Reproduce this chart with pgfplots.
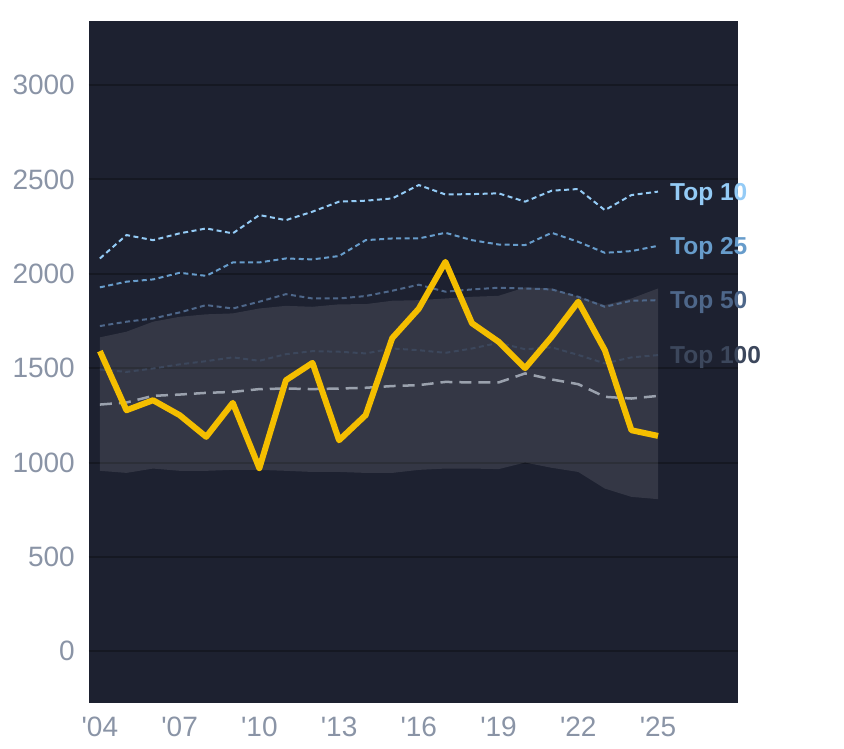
\documentclass[border=0pt]{standalone}
\usepackage{fontspec}
\setmainfont{Liberation Sans}
\usepackage{pgfplots}
\usepackage{pgfplotstable}
\pgfplotsset{compat=1.18}
\usepgfplotslibrary{fillbetween}
\definecolor{bgc}{HTML}{1D2130}
\definecolor{gridc}{HTML}{151822}
\definecolor{tickc}{HTML}{8A94A6}
\definecolor{yel}{HTML}{F4BE00}
\definecolor{tten}{HTML}{94CBF6}
\definecolor{ttf}{HTML}{679CCB}
\definecolor{tfif}{HTML}{4E678A}
\definecolor{thun}{HTML}{3C475C}
\definecolor{medc}{HTML}{9AA1AD}
\pgfplotstableread{
year yel top10 top25 top50 top100 med up lo
2004 1590 2081 1928 1723 1493 1307 1663 956
2005 1277 2205 1958 1746 1480 1318 1693 945
2006 1330 2178 1970 1763 1498 1353 1746 968
2007 1251 2214 2005 1795 1520 1360 1772 956
2008 1136 2240 1989 1834 1537 1369 1785 956
2009 1316 2214 2060 1816 1557 1374 1790 961
2010 970 2311 2060 1852 1539 1389 1816 961
2011 1436 2284 2081 1892 1574 1392 1830 956
2012 1528 2329 2076 1869 1590 1389 1825 950
2013 1118 2382 2094 1869 1587 1392 1838 950
2014 1251 2387 2178 1882 1578 1396 1839 945
2015 1659 2399 2187 1910 1604 1405 1857 945
2016 1815 2470 2187 1942 1595 1410 1860 961
2017 2063 2420 2217 1905 1581 1427 1869 968
2018 1738 2422 2178 1917 1604 1424 1878 968
2019 1640 2426 2155 1926 1634 1424 1883 965
2020 1500 2382 2152 1922 1600 1472 1928 1000
2021 1666 2440 2217 1917 1610 1440 1922 972
2022 1852 2449 2169 1878 1570 1415 1878 950
2023 1595 2337 2111 1825 1525 1348 1834 862
2024 1171 2417 2120 1857 1557 1339 1869 818
2025 1141 2435 2148 1860 1569 1353 1922 806
}\data
\begin{document}
\begin{tikzpicture}
\begin{axis}[
  at={(0,0)}, anchor=south west,
  width=649pt, height=682pt, scale only axis,
  xmin=2003.59, xmax=2028.01,
  ymin=-274, ymax=3339,
  clip=false,
  axis background/.style={fill=bgc},
  axis line style={draw=none},
  major tick style={draw=none},
  minor tick style={draw=none},
  ymajorgrids,
  grid style={gridc, line width=2pt},
  ytick={0,500,1000,1500,2000,2500,3000},
  xtick={2004,2007,2010,2013,2016,2019,2022,2025},
  xticklabels={\textquotesingle04,\textquotesingle07,\textquotesingle10,\textquotesingle13,\textquotesingle16,\textquotesingle19,\textquotesingle22,\textquotesingle25},
  /pgf/number format/assume math mode=true,
  /pgf/number format/1000 sep={},
  tick label style={font=\fontsize{28}{30}\selectfont, text=tickc, inner sep=0pt},
  yticklabel style={anchor=east},
  xticklabel style={anchor=north},
  yticklabel shift=14pt,
  xticklabel shift=14pt,
]
\addplot[name path=up, draw=none, forget plot] table[x=year,y=up] {\data};
\addplot[name path=lo, draw=none, forget plot] table[x=year,y=lo] {\data};
\addplot[fill=white, fill opacity=0.1, draw=none] fill between[of=up and lo];
\addplot[thun, line width=2pt, dash pattern=on 5pt off 3.5pt] table[x=year,y=top100] {\data};
\addplot[medc, line width=2.5pt, dash pattern=on 12pt off 7pt] table[x=year,y=med] {\data};
\addplot[tfif, line width=2pt, dash pattern=on 5pt off 3.5pt] table[x=year,y=top50] {\data};
\addplot[ttf, line width=2pt, dash pattern=on 5pt off 3.5pt] table[x=year,y=top25] {\data};
\addplot[tten, line width=2pt, dash pattern=on 5pt off 3.5pt] table[x=year,y=top10] {\data};
\addplot[yel, line width=6pt, line join=round] table[x=year,y=yel] {\data};
\begin{scope}[every node/.style={anchor=base west, inner sep=0pt, font=\fontsize{24.5}{26}\selectfont\bfseries, xshift=12pt, yshift=-8.8pt}]
\node[text=tten] at (axis cs:2025,2435) {Top 10};
\node[text=ttf] at (axis cs:2025,2148) {Top 25};
\node[text=tfif] at (axis cs:2025,1860) {Top 50};
\node[text=thun] at (axis cs:2025,1569) {Top 100};
\end{scope}
\end{axis}
\pgfresetboundingbox
\path[use as bounding box] (-89pt,-45pt) rectangle (755pt,703pt);
\end{tikzpicture}
\end{document}
